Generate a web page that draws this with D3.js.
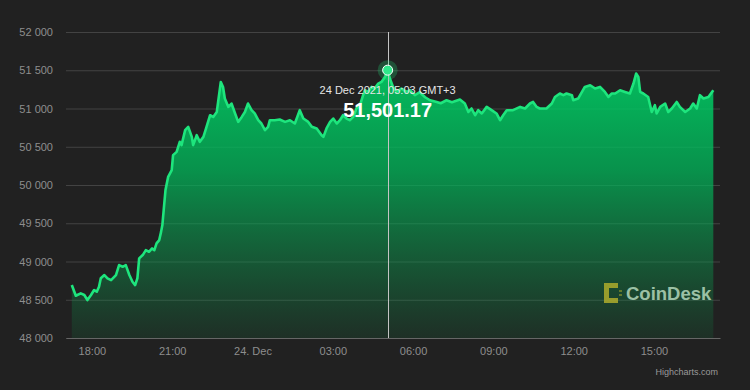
<!DOCTYPE html>
<html>
<head>
<meta charset="utf-8">
<script src="https://cdn.jsdelivr.net/npm/d3@7"></script>
<style>
  html, body { margin: 0; padding: 0; background: #212121; }
  svg { display: block; font-family: "Liberation Sans", Arial, Helvetica, sans-serif; }
</style>
</head>
<body>
<svg id="chart"></svg>
<script>
// BTC price, 23 Dec 2021 17:00 GMT+3 onwards (minutes after 17:00)
const minutesFrom1700 = [15,24,35,43,50,58,65,71,76,80,88,95,103,114,121,129,136,144,151,157,162,166,174,181,188,195,200,205,211,215,218,221,225,231,239,242,250,257,261,269,276,284,287,295,302,310,317,325,332,340,343,349,354,358,366,373,381,388,396,403,410,418,425,433,440,448,455,459,470,481,493,504,515,526,534,545,553,564,575,579,586,594,601,609,616,623,631,638,646,653,661,668,672,679,687,694,702,709,717,723,728,735,743,754,766,773,784,795,807,818,833,842,855,867,885,896,904,911,919,926,934,945,956,967,975,982,990,1004,1020,1031,1042,1049,1057,1064,1079,1091,1098,1109,1117,1124,1136,1139,1150,1165,1177,1188,1199,1210,1218,1225,1233,1244,1255,1266,1274,1280,1285,1289,1296,1307,1315,1322,1326,1334,1345,1352,1360,1371,1378,1390,1401,1408,1416,1423,1431,1442,1453]
const prices = [48692,48552,48584,48562,48496,48562,48627,48605,48670,48780,48823,48780,48757,48823,48953,48931,48953,48823,48735,48692,48780,49041,49084,49149,49127,49171,49149,49237,49280,49384,49476,49672,49933,50107,50194,50390,50433,50564,50521,50716,50760,50629,50521,50651,50564,50629,50760,50912,50890,50955,51086,51347,51282,51130,51021,51065,50935,50825,50890,50955,51065,50978,50935,50847,50804,50716,50760,50847,50847,50856,50825,50847,50804,50978,50869,50825,50760,50739,50651,50629,50739,50825,50869,50804,50847,50912,50869,50847,50890,51000,51043,51174,51239,51217,51282,51261,51326,51347,51413,51501.17,51392,51282,51217,51261,51217,51239,51174,51213,51147,51108,51086,51069,51108,51082,51117,51065,50955,51000,50912,50978,50935,51021,50978,50935,50847,50912,50978,50978,51021,51000,51065,51086,51021,51000,51000,51065,51151,51196,51174,51196,51174,51108,51130,51282,51304,51261,51282,51217,51151,51196,51196,51239,51217,51196,51326,51457,51413,51217,51196,51151,50955,51043,50935,51021,51065,50955,51000,51086,51021,50955,51000,51065,51000,51174,51130,51151,51239]

const yTicks = [48000,48500,49000,49500,50000,50500,51000,51500,52000]
const xTickTimes = ["2021-12-23 18:00","2021-12-23 21:00","2021-12-24 00:00","2021-12-24 03:00","2021-12-24 06:00","2021-12-24 09:00","2021-12-24 12:00","2021-12-24 15:00"]
const xTickLabels = ["18:00","21:00","24. Dec","03:00","06:00","09:00","12:00","15:00"]
const xRange = ["2021-12-23 17:02","2021-12-24 17:28"]

const hoverIndex = 99
const hoverLabel = "24 Dec 2021, 05:03 GMT+3"

// times are kept as GMT+3 wall clock, handled in UTC so the browser zone does not matter
const parseTime = d3.utcParse("%Y-%m-%d %H:%M")
const start = parseTime("2021-12-23 17:00")
const data = minutesFrom1700.map((m, i) => ({ time: new Date(start.getTime() + m * 60000), price: prices[i] }))

const W = 750, H = 390
const plot = { left: 66, right: 720, top: 32, bottom: 338 }

const svg = d3.select("#chart").attr("width", W).attr("height", H)
svg.append("rect").attr("width", W).attr("height", H).attr("fill", "#212121")

const x = d3.scaleUtc().domain(xRange.map(parseTime)).range([plot.left, plot.right])
const y = d3.scaleLinear().domain([48000, 52000]).range([plot.bottom, plot.top])

// gradient for the area
const defs = svg.append("defs")
const grad = defs.append("linearGradient")
    .attr("id", "areaGrad")
    .attr("gradientUnits", "userSpaceOnUse")
    .attr("x1", 0).attr("x2", 0)
    .attr("y1", plot.top).attr("y2", plot.bottom)
grad.append("stop").attr("offset", "0%").attr("stop-color", "#00d86a").attr("stop-opacity", 0.95)
grad.append("stop").attr("offset", "45%").attr("stop-color", "#00b85a").attr("stop-opacity", 0.75)
grad.append("stop").attr("offset", "100%").attr("stop-color", "#0b9a4c").attr("stop-opacity", 0.12)

// Y axis with gridlines
const fmt = v => d3.format(",")(v).replace(",", " ")
const yAxis = svg.append("g")
    .attr("transform", "translate(" + plot.left + ",0)")
    .call(d3.axisLeft(y).tickValues(yTicks).tickSize(-(plot.right - plot.left)).tickPadding(13).tickFormat(fmt))
yAxis.select(".domain").remove()
yAxis.selectAll("line").attr("stroke", "#434343")
yAxis.selectAll("text").attr("fill", "#8e8e8e").attr("font-size", "11px")

// area + line
const area = d3.area().x(d => x(d.time)).y0(y(48000)).y1(d => y(d.price))
const line = d3.line().x(d => x(d.time)).y(d => y(d.price))

svg.append("path").datum(data).attr("d", area).attr("fill", "url(#areaGrad)")

// X axis
const xAxis = svg.append("g")
    .attr("transform", "translate(0," + plot.bottom + ")")
    .call(d3.axisBottom(x).tickValues(xTickTimes.map(parseTime)).tickSize(0).tickPadding(9)
        .tickFormat((d, i) => xTickLabels[i]))
xAxis.select(".domain").attr("stroke", "#666")
xAxis.selectAll("text").attr("fill", "#8e8e8e").attr("font-size", "11px")

// CoinDesk watermark
const logo = svg.append("g").attr("opacity", 0.85)
const iconColor = "#aeac2c"
logo.append("rect").attr("x", 604).attr("y", 283).attr("width", 5).attr("height", 20).attr("fill", iconColor)
logo.append("rect").attr("x", 604).attr("y", 283).attr("width", 14).attr("height", 5).attr("fill", iconColor)
logo.append("rect").attr("x", 604).attr("y", 298).attr("width", 14).attr("height", 5).attr("fill", iconColor)
logo.append("rect").attr("x", 619).attr("y", 290).attr("width", 3).attr("height", 2).attr("fill", iconColor).attr("opacity", 0.6)
logo.append("rect").attr("x", 619).attr("y", 294).attr("width", 3).attr("height", 2).attr("fill", iconColor).attr("opacity", 0.6)
logo.append("text").attr("x", 626).attr("y", 300)
    .attr("font-size", "18.5px").attr("font-weight", "bold")
    .attr("fill", "#b2d6ba")
    .text("CoinDesk")

svg.append("path").datum(data).attr("d", line)
    .attr("fill", "none").attr("stroke", "#1ee57d").attr("stroke-width", 2.6).attr("stroke-linejoin", "round")

// crosshair + hovered point
const hp = data[hoverIndex]
const hx = Math.round(x(hp.time)) + 0.5
svg.append("line")
    .attr("x1", hx).attr("x2", hx).attr("y1", plot.top).attr("y2", plot.bottom)
    .attr("stroke", "#c4c4c4").attr("stroke-width", 1)
svg.append("circle").attr("cx", x(hp.time)).attr("cy", y(hp.price)).attr("r", 10)
    .attr("fill", "#1ee57d").attr("opacity", 0.25)
svg.append("circle").attr("cx", x(hp.time)).attr("cy", y(hp.price)).attr("r", 5)
    .attr("fill", "#2fe88a").attr("stroke", "#ffffff").attr("stroke-width", 1)

// tooltip text
svg.append("text").attr("x", x(hp.time)).attr("y", 93.5).attr("text-anchor", "middle")
    .attr("font-size", "11px").attr("fill", "#e6e6e6")
    .text(hoverLabel)
svg.append("text").attr("x", x(hp.time)).attr("y", 117).attr("text-anchor", "middle")
    .attr("font-size", "20px").attr("font-weight", "bold").attr("fill", "#ffffff")
    .text(d3.format(",.2f")(hp.price))

// credits
svg.append("text").attr("x", 718).attr("y", 375).attr("text-anchor", "end")
    .attr("font-size", "9px").attr("fill", "#9a9a9a")
    .text("Highcharts.com")
</script>
</body>
</html>
